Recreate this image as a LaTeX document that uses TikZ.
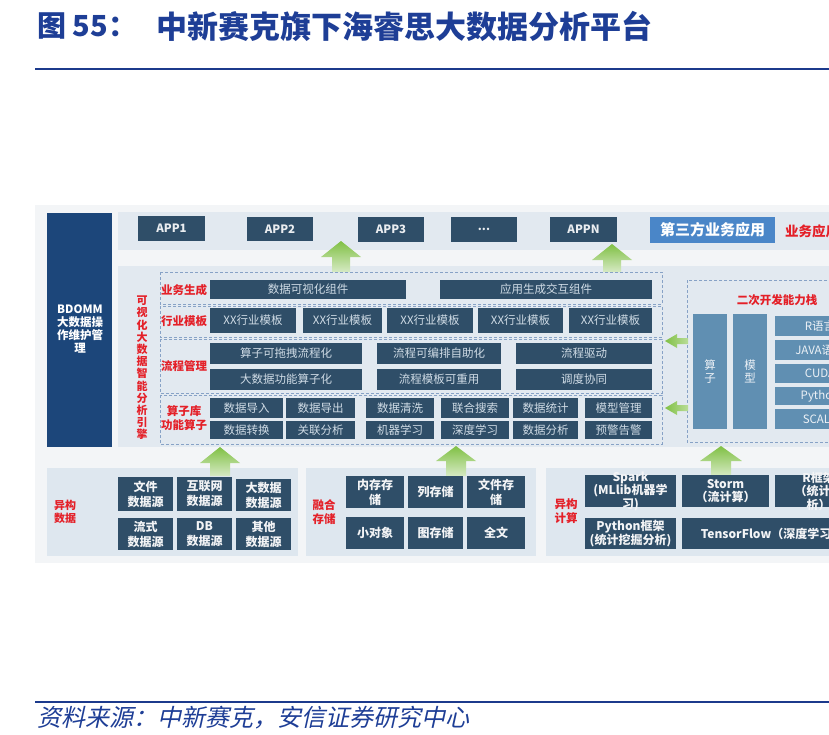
\documentclass[tikz,border=0pt]{standalone}
\usepackage{fontspec}
\setmainfont{Noto Sans CJK SC}
\newfontfamily\footfont[FakeSlant=0.22]{Noto Sans CJK SC}
\definecolor{ttlblue}{RGB}{30,62,150}
\definecolor{lineblue}{RGB}{28,58,140}
\definecolor{pagebg}{RGB}{243,245,247}
\definecolor{band}{RGB}{226,233,240}
\definecolor{panel}{RGB}{222,231,239}
\definecolor{dark}{RGB}{47,78,104}
\definecolor{navy}{RGB}{28,70,122}
\definecolor{steel}{RGB}{96,143,178}
\definecolor{third}{RGB}{74,134,200}
\definecolor{lbl}{RGB}{228,32,40}
\definecolor{dashc}{RGB}{135,162,198}
\definecolor{boxtxt}{RGB}{208,220,230}
\definecolor{grn}{RGB}{128,192,68}
\definecolor{grnl}{RGB}{214,234,196}
\tikzset{
  dbox/.style={fill=dark, inner sep=0pt, outer sep=0pt},
  dboxT/.style={text=boxtxt, font=\fontsize{11.5}{13}\selectfont, align=center, inner sep=0pt},
  appbox/.style={fill=dark, inner sep=0pt, outer sep=0pt},
  appboxT/.style={text=white!90!dark, font=\bfseries\fontsize{11.5}{13}\selectfont, inner sep=0pt},
  bbox/.style={fill=dark, inner sep=0pt, outer sep=0pt},
  bboxT/.style={text=white!94!dark, font=\bfseries\fontsize{12}{15}\selectfont, align=center, inner sep=0pt},
  cbox/.style={fill=dark, inner sep=0pt, outer sep=0pt},
  cboxT/.style={text=white!94!dark, font=\bfseries\fontsize{12}{13.5}\selectfont, align=center, inner sep=0pt},
  sbox/.style={fill=steel, inner sep=0pt, outer sep=0pt},
  sboxT/.style={text=white!88!steel, font=\fontsize{11.5}{13}\selectfont, align=center, inner sep=0pt},
  tbox/.style={fill=third, inner sep=0pt, outer sep=0pt},
  tboxT/.style={text=white, font=\bfseries\fontsize{15}{17}\selectfont, inner sep=0pt},
  redlbl/.style={text=lbl, font=\bfseries\fontsize{11.5}{14}\selectfont, align=center, inner sep=0pt},
  dashbox/.style={draw=dashc, line width=1pt, dash pattern=on 3pt off 2pt},
}
\newcommand\mybox[7]{%
  \node[#1, minimum width={(#5-#3)*1pt}, minimum height={(#6-#4)*1pt}] (#2) at ({(#3+#5)/2},{(#4+#6)/2}) {};
  \node[#1T] (#2t) at (#2.center) {#7};}
\newcommand\garrowup[6]{%
  \shade[top color=grn, bottom color=grnl] (#1,#2) -- ({#1+#5},#3) -- ({#1+#6},#3) -- ({#1+#6},#4) -- ({#1-#6},#4) -- ({#1-#6},#3) -- ({#1-#5},#3) -- cycle;}
\newcommand\garrowleft[6]{%
  \shade[left color=grn, right color=grn!55!white] (#1,#2) -- (#3,{#2-#5}) -- (#3,{#2-#6}) -- (#4,{#2-#6}) -- (#4,{#2+#6}) -- (#3,{#2+#6}) -- (#3,{#2+#5}) -- cycle;}
\begin{document}
\begin{tikzpicture}[x=1pt,y=-1pt]
\useasboundingbox (0,0) rectangle (829,734);
\clip (0,0) rectangle (829,734);
\fill[white] (0,0) rectangle (829,734);
% title
\node[anchor=west, text=ttlblue, font=\bfseries\fontsize{29}{31}\selectfont, inner sep=0pt] (ttla) at (37,26) {图 55：};
\node[anchor=west, text=ttlblue, font=\bfseries\fontsize{31}{33}\selectfont, inner sep=0pt] (ttlb) at (156,26) {中新赛克旗下海睿思大数据分析平台};
\coordinate (l1a) at (35,69); \coordinate (l1b) at (829,69);
\draw[lineblue, line width=2.5pt] (l1a) -- (l1b);
% background panels
\fill[pagebg] (35,205) rectangle (829,563);
\fill[band] (118,212) rectangle (829,250);
\fill[band] (118,266) rectangle (829,447);
\fill[panel] (47,468) rectangle (298,556);
\fill[panel] (306,468) rectangle (536,556);
\fill[panel] (546,468) rectangle (829,556);
% BDOMM
\mybox{dbox}{bdomm}{47}{213}{112}{447}{}
\fill[navy] (47,213) rectangle (112,447);
\node[text=white, font=\bfseries\fontsize{11.5}{13}\selectfont, align=center, inner sep=0pt] (bdommt) at (80,329) {BDOMM\\大数据操\\作维护管\\理};
% APP row
\mybox{appbox}{app1}{138}{216}{205}{241}{APP1}
\mybox{appbox}{app2}{247}{217}{313}{241}{APP2}
\mybox{appbox}{app3}{358}{217}{424}{242}{APP3}
\mybox{appbox}{appd}{451}{217}{517}{242}{...}
\mybox{appbox}{appn}{550}{217}{617}{242}{APPN}
\mybox{tbox}{third}{650}{217}{775}{243}{第三方业务应用}
\node[anchor=west, text=lbl, font=\bfseries\fontsize{13.5}{15}\selectfont, inner sep=0pt] (yyyy) at (785,231) {业务应用};
% up arrows top
\garrowup{341}{241}{257}{272}{20}{9}
\garrowup{612}{244}{260}{272}{20}{9}
% vertical label
\node[redlbl, font=\bfseries\fontsize{11}{12.2}\selectfont] (vlabel) at (142,368) {可\\视\\化\\大\\数\\据\\智\\能\\分\\析\\引\\擎};
% dashed groups
\draw[dashbox] (160,272) rectangle (662,304);
\draw[dashbox] (160,306) rectangle (662,337);
\draw[dashbox] (160,339) rectangle (662,393);
\draw[dashbox] (160,395) rectangle (662,444);
\node[redlbl] (lb1) at (184,290) {业务生成};
\node[redlbl] (lb2) at (184,321) {行业模板};
\node[redlbl] (lb3) at (184,366) {流程管理};
\node[redlbl] (lb4) at (184,418) {算子库\\功能算子};
% row 1
\mybox{dbox}{r1a}{210}{280}{406}{299}{数据可视化组件}
\mybox{dbox}{r1b}{440}{280}{652}{299}{应用生成交互组件}
% row 2
\mybox{dbox}{r2a}{210}{308}{296}{333}{XX行业模板}
\mybox{dbox}{r2b}{303}{308}{382}{333}{XX行业模板}
\mybox{dbox}{r2c}{387}{308}{473}{333}{XX行业模板}
\mybox{dbox}{r2d}{478}{308}{563}{333}{XX行业模板}
\mybox{dbox}{r2e}{569}{308}{652}{333}{XX行业模板}
% row 3
\mybox{dbox}{r3a}{210}{343}{362}{364}{算子可拖拽流程化}
\mybox{dbox}{r3b}{377}{343}{501}{364}{流程可编排自助化}
\mybox{dbox}{r3c}{516}{343}{652}{364}{流程驱动}
\mybox{dbox}{r3d}{210}{369}{362}{390}{大数据功能算子化}
\mybox{dbox}{r3e}{377}{369}{501}{390}{流程模板可重用}
\mybox{dbox}{r3f}{516}{369}{652}{390}{调度协同}
% row 4
\mybox{dbox}{r4a}{210}{398}{283}{418}{数据导入}
\mybox{dbox}{r4b}{286}{398}{355}{418}{数据导出}
\mybox{dbox}{r4c}{366}{398}{434}{418}{数据清洗}
\mybox{dbox}{r4d}{441}{398}{509}{418}{联合搜索}
\mybox{dbox}{r4e}{513}{398}{578}{418}{数据统计}
\mybox{dbox}{r4f}{585}{398}{652}{418}{模型管理}
\mybox{dbox}{r4g}{210}{421}{283}{439}{数据转换}
\mybox{dbox}{r4h}{286}{421}{355}{439}{关联分析}
\mybox{dbox}{r4i}{366}{421}{434}{439}{机器学习}
\mybox{dbox}{r4j}{441}{421}{509}{439}{深度学习}
\mybox{dbox}{r4k}{513}{421}{578}{439}{数据分析}
\mybox{dbox}{r4l}{585}{421}{652}{439}{预警告警}
% right stack
\draw[dashbox] (687,280) rectangle (840,442);
\node[redlbl, font=\bfseries\fontsize{11.5}{14}\selectfont] (stk) at (777,300) {二次开发能力栈};
\mybox{sbox}{ops}{693}{314}{727}{429}{算\\子}
\mybox{sbox}{mdl}{733}{314}{767}{429}{模\\型}
\mybox{sbox}{lr}{775}{316}{865}{336}{R语言}
\mybox{sbox}{lj}{775}{340}{865}{360}{JAVA语言}
\mybox{sbox}{lc}{775}{364}{865}{383}{CUDA}
\mybox{sbox}{lp}{775}{387}{865}{405}{Python}
\mybox{sbox}{ls}{775}{409}{865}{429}{SCALA}
\garrowleft{665}{341}{677}{688}{7}{3}
\garrowleft{665}{408}{677}{688}{7}{3}
% bottom arrows
\garrowup{220}{447}{463}{476}{20}{10}
\garrowup{456}{446}{461}{476}{20}{10}
\garrowup{721}{446}{461}{476}{21}{10}
% panel 1
\node[redlbl, font=\bfseries\fontsize{11}{13}\selectfont] (p1l) at (65,512) {异构\\数据};
\mybox{bbox}{f1}{118}{477}{173}{511}{文件\\数据源}
\mybox{bbox}{f2}{177}{477}{232}{511}{互联网\\数据源}
\mybox{bbox}{f3}{236}{479}{291}{511}{大数据\\数据源}
\mybox{bbox}{f4}{118}{518}{173}{550}{流式\\数据源}
\mybox{bbox}{f5}{177}{518}{232}{550}{DB\\数据源}
\mybox{bbox}{f6}{236}{518}{291}{550}{其他\\数据源}
% panel 2
\node[redlbl, font=\bfseries\fontsize{11.5}{14}\selectfont] (p2l) at (324,512) {融合\\存储};
\mybox{bbox}{s1}{346}{476}{404}{508}{内存存\\储}
\mybox{bbox}{s2}{408}{476}{463}{508}{列存储}
\mybox{bbox}{s3}{467}{476}{525}{508}{文件存\\储}
\mybox{bbox}{s4}{346}{517}{404}{549}{小对象}
\mybox{bbox}{s5}{408}{517}{463}{549}{图存储}
\mybox{bbox}{s6}{467}{517}{525}{549}{全文}
% panel 3
\node[redlbl, font=\bfseries\fontsize{11.5}{14}\selectfont] (p3l) at (566,511) {异构\\计算};
\mybox{cbox}{c1}{585}{475}{676}{507}{Spark\\(MLlib机器学\\习)}
\mybox{cbox}{c2}{682}{475}{769}{507}{Storm\\（流计算）}
\mybox{cbox}{c3}{775}{475}{862}{507}{R框架\\（统计分\\析）}
\mybox{cbox}{c4}{585}{518}{676}{549}{Python框架\\(统计挖掘分析)}
\mybox{cbox}{c5}{682}{518}{862}{549}{TensorFlow（深度学习）}
% footer
\coordinate (l2a) at (35,702); \coordinate (l2b) at (829,702);
\draw[lineblue, line width=2pt] (l2a) -- (l2b);
\node[anchor=west, text=ttlblue, font=\footfont\fontsize{24}{26}\selectfont, inner sep=0pt] (src) at (37,718) {资料来源：中新赛克，安信证券研究中心};
\end{tikzpicture}
\end{document}
